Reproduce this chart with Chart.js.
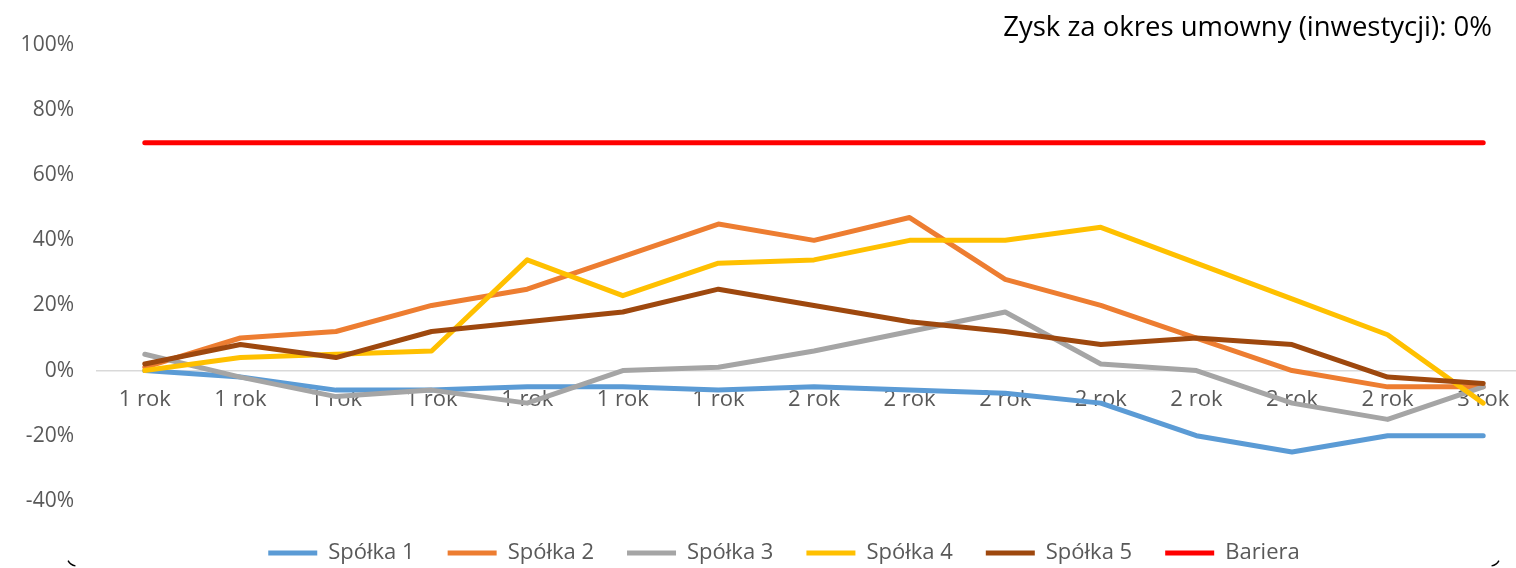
<!DOCTYPE html>
<html lang="pl">
<head>
<meta charset="utf-8">
<title>Zysk za okres umowny</title>
<script src="https://cdn.jsdelivr.net/npm/chart.js@4.4.1/dist/chart.umd.min.js"></script>
<style>
  html, body { margin: 0; padding: 0; background: #fff; overflow: hidden; }
  #wrap { width: 1568px; height: 568px; }
</style>
</head>
<body>
<div id="wrap"><canvas id="zyskChart" width="1568" height="568"></canvas></div>
<script>
/* Wykres: zysk spolek vs bariera */

var PERIOD_LABELS = ['1 rok', '1 rok', '1 rok', '1 rok', '1 rok', '1 rok', '1 rok',
  '2 rok', '2 rok', '2 rok', '2 rok', '2 rok', '2 rok', '2 rok', '3 rok'];
var SPOLKA_1 = [0, -2, -6, -6, -5, -5, -6, -5, -6, -7, -10, -20, -25, -20, -20];
var SPOLKA_2 = [1, 10, 12, 20, 25, 35, 45, 40, 47, 28, 20, 10, 0, -5, -5];
var SPOLKA_3 = [5, -2, -8, -6, -10, 0, 1, 6, 12, 18, 2, 0, -10, -15, -5];
var SPOLKA_4 = [0, 4, 5, 6, 34, 23, 33, 34, 40, 40, 44, 33, 22, 11, -10];
var SPOLKA_5 = [2, 8, 4, 12, 15, 18, 25, 20, 15, 12, 8, 10, 8, -2, -4];
var BARIERA = [70, 70, 70, 70, 70, 70, 70, 70, 70, 70, 70, 70, 70, 70, 70];
var Y_TICKS = [-40, -20, 0, 20, 40, 60, 80, 100];
var TITLE_TEXT = 'Zysk za okres umowny (inwestycji): 0%';

var FONT_FAMILY = '"Open Sans", Lato, sans-serif';
var AXIS_COLOR = '#595959';

function makeSeries(label, data, color, order) {
  return {
    label: label,
    data: data,
    borderColor: color,
    backgroundColor: color,
    borderWidth: 5,
    borderCapStyle: 'round',
    borderJoinStyle: 'round',
    pointRadius: 0,
    pointHoverRadius: 0,
    tension: 0,
    fill: false,
    order: order
  };
}

// legend is centred on the whole frame, not on the plot
var legendShiftPlugin = {
  id: 'legendShift',
  afterLayout: function (chart) {
    if (chart.legend) {
      chart.legend.left = 37;
      chart.legend.right = chart.width - 37;
    }
  }
};

// title in the top right corner and the cut off frame corners
var decorPlugin = {
  id: 'decor',
  afterDraw: function (chart) {
    var ctx = chart.ctx;
    ctx.save();
    ctx.font = '27.5px ' + FONT_FAMILY;
    ctx.fillStyle = '#000000';
    ctx.textAlign = 'right';
    ctx.textBaseline = 'alphabetic';
    ctx.fillText(TITLE_TEXT, 1492, 36);

    ctx.strokeStyle = '#000000';
    ctx.lineWidth = 1.5;
    ctx.beginPath();
    ctx.arc(77, 556, 10, Math.PI * 0.85, Math.PI * 0.55, true);
    ctx.stroke();
    ctx.beginPath();
    ctx.arc(1490, 556, 10, Math.PI * 0.15, Math.PI * 0.45, false);
    ctx.stroke();
    ctx.restore();
  }
};

function initChart() {
  var canvas = document.getElementById('zyskChart');

  new Chart(canvas.getContext('2d'), {
    type: 'line',
    data: {
      labels: PERIOD_LABELS,
      datasets: [
        makeSeries('Spółka 1', SPOLKA_1, '#5B9BD5', 6),
        makeSeries('Spółka 2', SPOLKA_2, '#ED7D31', 5),
        makeSeries('Spółka 3', SPOLKA_3, '#A5A5A5', 4),
        makeSeries('Spółka 4', SPOLKA_4, '#FFC000', 3),
        makeSeries('Spółka 5', SPOLKA_5, '#9E480E', 2),
        makeSeries('Bariera', BARIERA, '#FF0000', 1)
      ]
    },
    options: {
      responsive: false,
      animation: false,
      devicePixelRatio: 1,
      layout: {
        padding: { top: 45, left: 0, right: 37, bottom: -6 }
      },
      plugins: {
        tooltip: { enabled: false },
        title: { display: false },
        legend: {
          position: 'bottom',
          title: {
            display: true,
            text: ' ',
            font: { size: 1 },
            padding: { top: 0, bottom: 7 }
          },
          labels: {
            usePointStyle: true,
            pointStyle: 'line',
            pointStyleWidth: 49,
            padding: 33,
            color: AXIS_COLOR,
            font: { family: FONT_FAMILY, size: 22 },
            sort: function (a, b) {
              return a.datasetIndex - b.datasetIndex;
            }
          }
        }
      },
      scales: {
        x: {
          position: { y: 0 },
          offset: true,
          grid: { display: false, drawTicks: false, tickLength: 0 },
          border: { display: true, color: '#D9D9D9', width: 1.5 },
          ticks: {
            color: AXIS_COLOR,
            padding: 16,
            maxRotation: 0,
            autoSkip: false,
            font: { family: FONT_FAMILY, size: 22 }
          }
        },
        y: {
          min: Y_TICKS[0],
          max: Y_TICKS[Y_TICKS.length - 1],
          afterFit: function (scale) {
            scale.width = 97;
          },
          afterBuildTicks: function (scale) {
            scale.ticks = Y_TICKS.map(function (v) { return { value: v }; });
          },
          grid: { display: false, drawTicks: false, tickLength: 0 },
          border: { display: false },
          ticks: {
            color: AXIS_COLOR,
            padding: 23,
            font: { family: FONT_FAMILY, size: 21 },
            callback: function (value) {
              return value + '%';
            }
          }
        }
      }
    },
    plugins: [legendShiftPlugin, decorPlugin]
  });
}

document.addEventListener('DOMContentLoaded', initChart);
</script>
</body>
</html>
